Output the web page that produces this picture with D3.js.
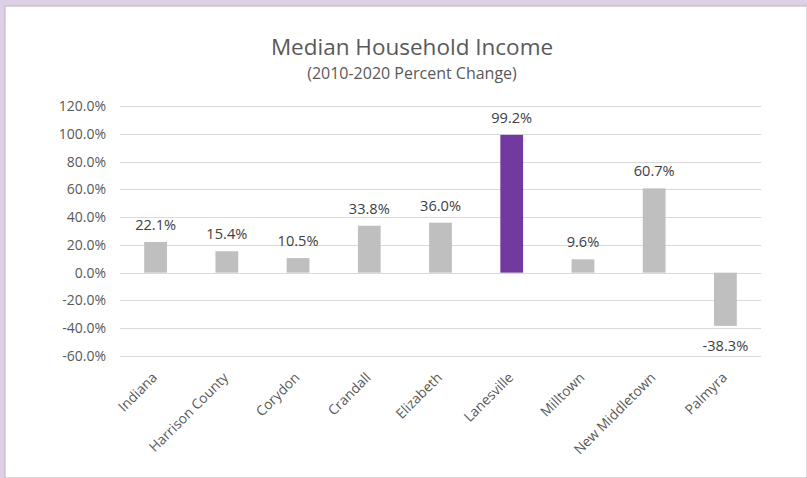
<!DOCTYPE html>
<html><head><meta charset="utf-8">
<script src="https://cdn.jsdelivr.net/npm/d3@7"></script>
<style>
html,body{margin:0;padding:0;background:#ddd0e6;}
svg{display:block;}
</style></head>
<body>
<svg id="c" width="807" height="478"></svg>
<script>
const categories = ["Indiana","Harrison County","Corydon","Crandall","Elizabeth","Lanesville","Milltown","New Middletown","Palmyra"];
const values = [22.1, 15.4, 10.5, 33.8, 36.0, 99.2, 9.6, 60.7, -38.3];
const highlight = ["Lanesville"];
const yTicks = [-60,-40,-20,0,20,40,60,80,100,120];
const title = "Median Household Income";
const subtitle = "(2010-2020 Percent Change)";

const svg = d3.select("#c");
svg.append("rect").attr("x",0).attr("y",0).attr("width",807).attr("height",478).attr("fill","#ddd0e6");
svg.append("rect").attr("x",5).attr("y",6).attr("width",802).attr("height",472).attr("fill","#ffffff").attr("stroke","#b9b4bd").attr("stroke-width",1);

const font = "'Open Sans', sans-serif";
const x = d3.scaleBand().domain(categories).range([120,761]).paddingInner(0.68).paddingOuter(0.34);
const y = d3.scaleLinear().domain([-60,120]).range([356,106]);

// gridlines
svg.append("g").selectAll("line").data(yTicks).join("line")
  .attr("x1",120).attr("x2",761)
  .attr("y1",d=>Math.round(y(d))+0.5).attr("y2",d=>Math.round(y(d))+0.5)
  .attr("stroke","#d9d9d9").attr("stroke-width",1);

// y axis labels
const yAxis = d3.axisLeft(y).tickValues(yTicks).tickFormat(d=>d.toFixed(1)+"%").tickSize(0).tickPadding(0);
const ga = svg.append("g").attr("transform","translate(106,0)").call(yAxis);
ga.select(".domain").remove();
ga.selectAll("text").attr("font-family",font).attr("font-size",14).attr("fill","#595959");

// bars
svg.append("g").selectAll("rect").data(categories).join("rect")
  .attr("x",d=>x(d))
  .attr("width",x.bandwidth())
  .attr("y",(d,i)=>y(Math.max(0,values[i])))
  .attr("height",(d,i)=>Math.abs(y(values[i])-y(0)))
  .attr("fill",d=>highlight.includes(d)?"#7239a0":"#bfbfbf");

// data labels
svg.append("g").selectAll("text").data(categories).join("text")
  .attr("x",d=>x(d)+x.bandwidth()/2)
  .attr("y",(d,i)=>values[i]>=0 ? y(values[i])-12 : y(values[i])+25)
  .attr("text-anchor","middle")
  .attr("font-family",font).attr("font-size",14.6).attr("fill","#404040")
  .text((d,i)=>values[i].toFixed(1)+"%");

// x labels
const xAxis = d3.axisBottom(x).tickSize(0).tickPadding(0);
const gx = svg.append("g").call(xAxis);
gx.select(".domain").remove();
gx.selectAll(".tick").attr("transform",d=>`translate(${x(d)+x.bandwidth()/2-1},375)`);
gx.selectAll("text").attr("font-family",font).attr("font-size",13.8).attr("fill","#595959")
  .attr("text-anchor","end").attr("dy","0.35em").attr("y",0).attr("transform","rotate(-45)");

// titles
svg.append("text").attr("x",412).attr("y",55).attr("text-anchor","middle")
  .attr("font-family",font).attr("font-size",22.5).attr("fill","#595959").text(title);
svg.append("text").attr("x",412).attr("y",79).attr("text-anchor","middle")
  .attr("font-family",font).attr("font-size",16).attr("fill","#595959").text(subtitle);
</script>
</body></html>
